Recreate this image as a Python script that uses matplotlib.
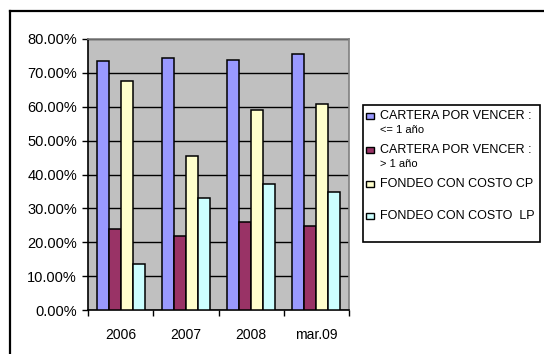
import matplotlib
matplotlib.use("Agg")
import matplotlib.pyplot as plt
import numpy as np
from matplotlib.patches import Rectangle
from matplotlib.lines import Line2D

categories = ["2006", "2007", "2008", "mar.09"]
cartera_corto = [73.4, 74.3, 73.8, 75.7]
cartera_largo = [23.8, 21.9, 26.0, 24.9]
fondeo_cp = [67.5, 45.6, 59.1, 60.8]
fondeo_lp = [13.7, 33.1, 37.2, 34.9]
series = [cartera_corto, cartera_largo, fondeo_cp, fondeo_lp]
colors = ["#9999FF", "#993366", "#FFFFCC", "#CCFFFF"]
legend_main = ["CARTERA POR VENCER :", "CARTERA POR VENCER :", "FONDEO CON COSTO CP", "FONDEO CON COSTO  LP"]
legend_sub = ["<= 1 año", "> 1 año", "", ""]
yticks = [0, 10, 20, 30, 40, 50, 60, 70, 80]

W, H = 544, 354
plt.rcParams['font.family'] = ['Liberation Sans', 'DejaVu Sans']
fig = plt.figure(figsize=(W / 100, H / 100), dpi=100)

def fx(px):
    return px / W

def fy(py):
    return 1 - py / H

# outer frame
fig.add_artist(Line2D([fx(10), fx(10)], [0, fy(11)], color="black", lw=1.6))
fig.add_artist(Line2D([fx(10), 1.0], [fy(11), fy(11)], color="black", lw=1.6))

left, right, top, bottom = 88, 349, 39, 310
ax = fig.add_axes([fx(left), fy(bottom), fx(right - left), (bottom - top) / H])
ax.set_facecolor("#C0C0C0")

n = len(series)
bw = 0.183
x = np.arange(len(categories))
for i, (vals, c) in enumerate(zip(series, colors)):
    ax.bar(x + (i - (n - 1) / 2) * bw, vals, width=bw, color=c, edgecolor="black",
           linewidth=1.1, zorder=3)

ax.set_xlim(-0.5, len(categories) - 0.5)
ax.set_ylim(0, 80)
ax.set_yticks(yticks)
ax.set_yticklabels([f"{v:.2f}%" for v in yticks], fontsize=10.5)
ax.yaxis.grid(True, color="black", lw=1.0, zorder=1)
ax.set_axisbelow(True)
ax.tick_params(axis="y", length=4, width=1, pad=4, direction="out")

ax.set_xticks(x)
ax.set_xticklabels(categories, fontsize=10)
ax.set_xticks(np.arange(len(categories) + 1) - 0.5, minor=True)
ax.tick_params(axis="x", which="major", length=0, pad=13)
ax.tick_params(axis="x", which="minor", length=4, width=1, direction="out")

for s in ["top", "right"]:
    ax.spines[s].set_color("#808080")
    ax.spines[s].set_linewidth(1.2)
for s in ["left", "bottom"]:
    ax.spines[s].set_color("black")
    ax.spines[s].set_linewidth(1.2)

# legend box
lx0, ly0, lx1, ly1 = 363, 105, 540, 242
fig.add_artist(Rectangle((fx(lx0), fy(ly1)), fx(lx1 - lx0), (ly1 - ly0) / H,
                         facecolor="white", edgecolor="black", lw=1.2))
entry_y = [115, 149, 183, 215]
for yy, c, m, sub in zip(entry_y, colors, legend_main, legend_sub):
    fig.add_artist(Rectangle((fx(366), fy(yy + 4)), fx(8), 6 / H,
                             facecolor=c, edgecolor="black", lw=1.0))
    fig.text(fx(380), fy(yy + 1), m, fontsize=9, va="center", ha="left")
    if sub:
        fig.text(fx(380), fy(yy + 15), sub, fontsize=8, va="center", ha="left")

fig.savefig("out.png", dpi=100)
